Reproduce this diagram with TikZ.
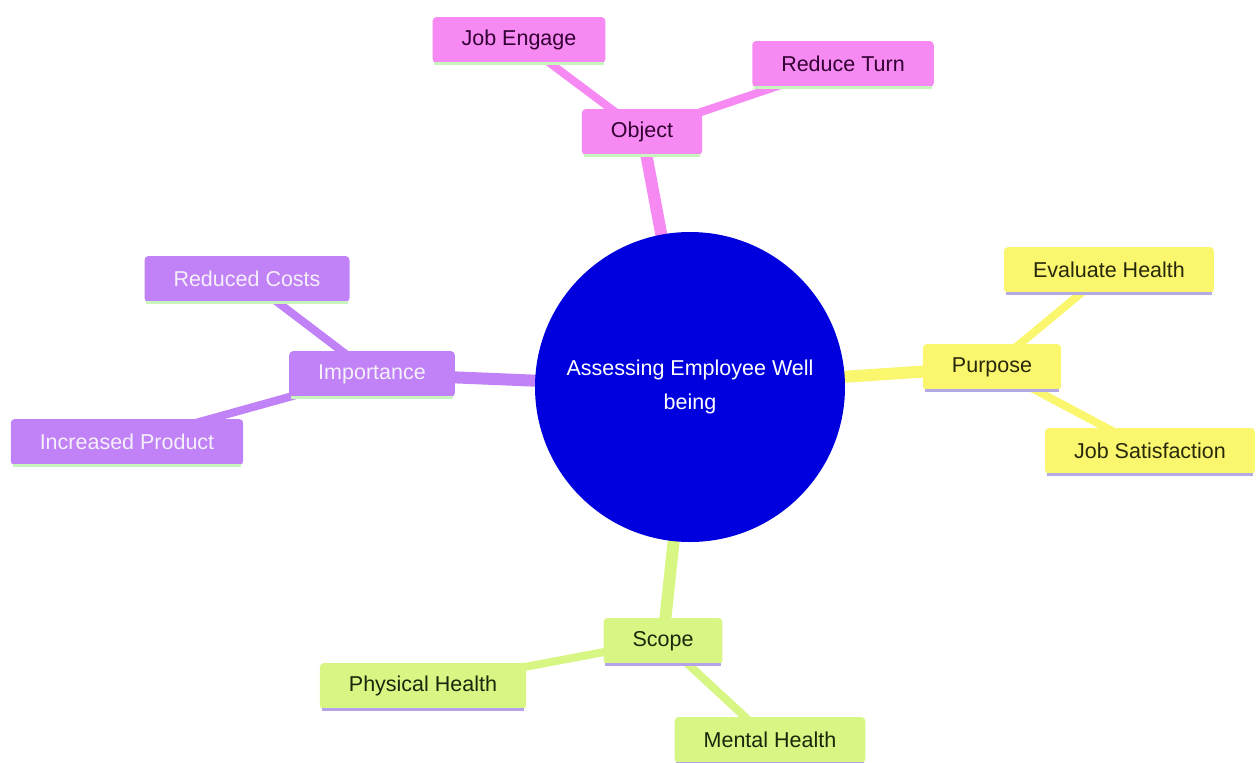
\documentclass[tikz,border=0pt]{standalone}
\usepackage{fontspec}
\setmainfont{Liberation Sans}
\definecolor{pinkf}{RGB}{246,138,242}
\definecolor{pinkt}{RGB}{50,0,50}
\definecolor{purf}{RGB}{192,130,246}
\definecolor{purt}{RGB}{245,240,250}
\definecolor{yelf}{RGB}{250,246,110}
\definecolor{yelt}{RGB}{40,40,10}
\definecolor{grnf}{RGB}{216,246,132}
\definecolor{grnt}{RGB}{25,40,10}
\definecolor{lavl}{RGB}{180,170,230}
\definecolor{grnl}{RGB}{200,245,190}
\definecolor{circ}{RGB}{0,0,222}
\tikzset{
  box/.style={rectangle, rounded corners=4pt, minimum height=46pt, inner xsep=29pt,
    font=\fontsize{21.5}{24}\selectfont},
  pinkbox/.style={box, fill=pinkf, text=pinkt},
  purbox/.style={box, fill=purf, text=purt},
  yelbox/.style={box, fill=yelf, text=yelt},
  grnbox/.style={box, fill=grnf, text=grnt},
  mainline/.style={line width=12pt},
  subline/.style={line width=8pt},
}
\newcommand{\uline}[2]{\draw[#2, line width=3pt] ([xshift=2pt]#1.south west) -- ([xshift=-2pt]#1.south east);}
\begin{document}
\begin{tikzpicture}[x=1pt,y=-1pt]
\useasboundingbox (0,0) rectangle (1256,763);
\coordinate (cc) at (690,387);
\coordinate (ob) at (642,132);
\coordinate (je) at (519,40);
\coordinate (rt) at (843,64);
\coordinate (im) at (372,374);
\coordinate (rc) at (247,279);
\coordinate (ip) at (127,442);
\coordinate (pu) at (992,367);
\coordinate (eh) at (1109,270);
\coordinate (js) at (1150,451);
\coordinate (sc) at (663,641);
\coordinate (ph) at (423,686);
\coordinate (mh) at (770,740);
% connectors
\draw[mainline, pinkf] (cc) -- (ob);
\draw[mainline, purf] (cc) -- (im);
\draw[mainline, yelf] (cc) -- (pu);
\draw[mainline, grnf] (cc) -- (sc);
\draw[subline, pinkf] (ob) -- (je);
\draw[subline, pinkf] (ob) -- (rt);
\draw[subline, purf] (im) -- (rc);
\draw[subline, purf] (im) -- (ip);
\draw[subline, yelf] (pu) -- (eh);
\draw[subline, yelf] (pu) -- (js);
\draw[subline, grnf] (sc) -- (ph);
\draw[subline, grnf] (sc) -- (mh);
% central
\node[circle, fill=circ, minimum size=310pt, text=white, align=center,
  font=\fontsize{21.5}{34}\selectfont] (root) at (cc) {Assessing Employee Well\\being};
% branch nodes
\node[pinkbox] (object) at (ob) {Object};
\node[pinkbox] (jobeng) at (je) {Job Engage};
\node[pinkbox] (redturn) at (rt) {Reduce Turn};
\node[purbox] (importance) at (im) {Importance};
\node[purbox] (redcost) at (rc) {Reduced Costs};
\node[purbox] (incprod) at (ip) {Increased Product};
\node[yelbox] (purpose) at (pu) {Purpose};
\node[yelbox] (evalh) at (eh) {Evaluate Health};
\node[yelbox] (jobsat) at (js) {Job Satisfaction};
\node[grnbox] (scope) at (sc) {Scope};
\node[grnbox] (physh) at (ph) {Physical Health};
\node[grnbox] (menth) at (mh) {Mental Health};
\uline{object}{grnl}
\uline{jobeng}{grnl}
\uline{redturn}{grnl}
\uline{importance}{grnl}
\uline{redcost}{grnl}
\uline{incprod}{grnl}
\uline{purpose}{lavl}
\uline{evalh}{lavl}
\uline{jobsat}{lavl}
\uline{scope}{lavl!80!purf}
\uline{physh}{lavl!80!purf}
\uline{menth}{lavl!80!purf}
\end{tikzpicture}
\end{document}
